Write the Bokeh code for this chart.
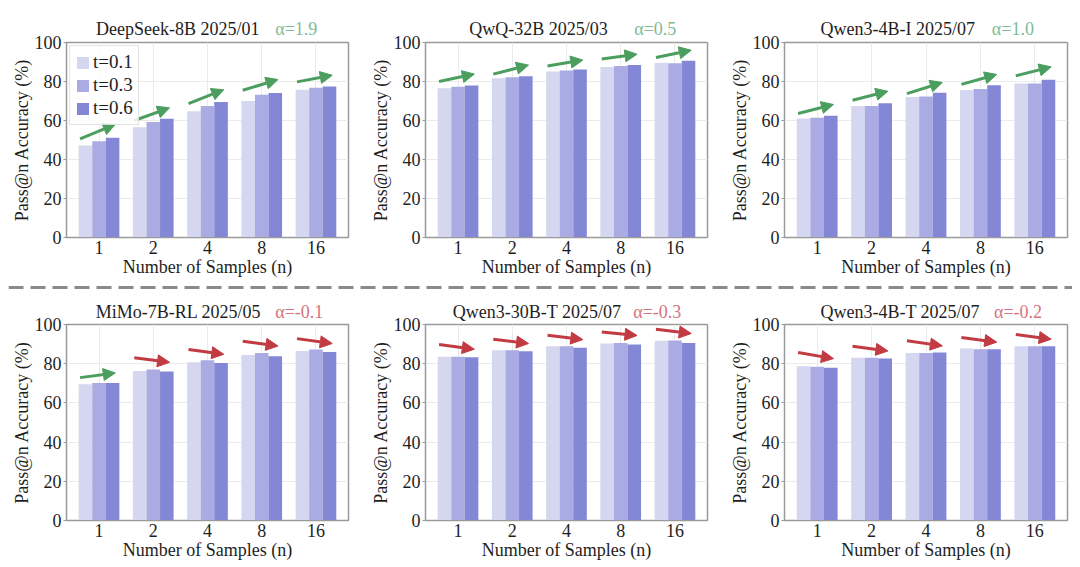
from bokeh.plotting import figure
from bokeh.models import (ColumnDataSource, Range1d, FixedTicker, Arrow,
                          NormalHead, Legend, LegendItem)
from bokeh.core.properties import value
from bokeh.layouts import column, row
from bokeh.embed import file_html
from bokeh.resources import INLINE

# ---------------- data ----------------
n_samples = ["1", "2", "4", "8", "16"]
temps = ["t=0.1", "t=0.3", "t=0.6"]
models = ["DeepSeek-8B 2025/01", "QwQ-32B 2025/03", "Qwen3-4B-I 2025/07",
          "MiMo-7B-RL 2025/05", "Qwen3-30B-T 2025/07", "Qwen3-4B-T 2025/07"]
alphas = ["\u03b1=1.9", "\u03b1=0.5", "\u03b1=1.0", "\u03b1=-0.1", "\u03b1=-0.3", "\u03b1=-0.2"]

deepseek_t01 = [47.2, 56.6, 64.7, 70.0, 75.8]
deepseek_t03 = [49.4, 59.2, 67.4, 73.2, 76.8]
deepseek_t06 = [51.1, 60.9, 69.5, 74.1, 77.5]
deepseek_arrow_tail = [50.6, 60.0, 68.6, 75.5, 79.8]
deepseek_arrow_tip = [58.0, 66.5, 75.8, 81.0, 83.2]

qwq_t01 = [76.6, 81.7, 85.1, 87.5, 89.6]
qwq_t03 = [77.3, 82.2, 85.6, 87.9, 89.4]
qwq_t06 = [78.0, 82.7, 86.2, 88.4, 90.6]
qwq_arrow_tail = [80.0, 83.8, 88.0, 91.5, 92.3]
qwq_arrow_tip = [83.8, 88.4, 91.0, 94.0, 96.0]

qwen4bi_t01 = [61.0, 67.4, 72.1, 75.6, 79.0]
qwen4bi_t03 = [61.4, 67.5, 72.3, 76.2, 79.0]
qwen4bi_t06 = [62.4, 68.9, 74.2, 78.1, 80.9]
qwen4bi_arrow_tail = [63.6, 70.4, 73.8, 78.5, 82.9]
qwen4bi_arrow_tip = [68.2, 75.0, 79.5, 83.6, 87.5]

mimo_t01 = [69.5, 76.3, 80.7, 84.5, 86.5]
mimo_t03 = [70.2, 77.0, 81.8, 85.5, 87.2]
mimo_t06 = [70.2, 76.0, 80.4, 83.8, 86.0]
mimo_arrow_tail = [72.9, 83.0, 87.2, 91.5, 92.8]
mimo_arrow_tip = [75.3, 80.7, 84.8, 89.0, 90.3]

qwen30bt_t01 = [83.6, 86.9, 88.9, 90.3, 91.7]
qwen30bt_t03 = [83.6, 86.9, 88.9, 90.5, 91.8]
qwen30bt_t06 = [83.3, 86.4, 88.2, 89.8, 90.6]
qwen30bt_arrow_tail = [89.8, 92.5, 94.5, 96.2, 97.6]
qwen30bt_arrow_tip = [87.4, 90.3, 92.3, 94.4, 95.4]

qwen4bt_t01 = [78.7, 83.0, 85.5, 87.7, 88.9]
qwen4bt_t03 = [78.4, 83.0, 85.5, 87.4, 88.9]
qwen4bt_t06 = [77.9, 82.6, 85.7, 87.4, 88.9]
qwen4bt_arrow_tail = [85.7, 88.9, 91.7, 93.4, 94.9]
qwen4bt_arrow_tip = [82.6, 86.5, 89.1, 91.0, 92.5]

panels = [
    (deepseek_t01, deepseek_t03, deepseek_t06, deepseek_arrow_tail, deepseek_arrow_tip),
    (qwq_t01, qwq_t03, qwq_t06, qwq_arrow_tail, qwq_arrow_tip),
    (qwen4bi_t01, qwen4bi_t03, qwen4bi_t06, qwen4bi_arrow_tail, qwen4bi_arrow_tip),
    (mimo_t01, mimo_t03, mimo_t06, mimo_arrow_tail, mimo_arrow_tip),
    (qwen30bt_t01, qwen30bt_t03, qwen30bt_t06, qwen30bt_arrow_tail, qwen30bt_arrow_tip),
    (qwen4bt_t01, qwen4bt_t03, qwen4bt_t06, qwen4bt_arrow_tail, qwen4bt_arrow_tip),
]

# ---------------- style ----------------
FONT = "Liberation Serif"
BAR_COLORS = ["#d5d6ef", "#a9abe2", "#8387d5"]
UP_COLOR = "#4c9e5f"
DOWN_COLOR = "#c23a42"
ALPHA_UP = "#80bb94"
ALPHA_DOWN = "#d4737d"
FRAME_COLOR = "#9a9a9a"
TEXT_COLOR = "#1e1e1e"
# title placement (data x of end of black title / start of alpha text)
title_end_x = [2.96, 2.76, 2.90, 2.99, 3.01, 2.99]
alpha_start_x = [3.25, 3.25, 3.21, 3.25, 3.23, 3.25]
offsets = [-0.25, 0.0, 0.25]
BAR_W = 0.25
X_START, X_END = -0.6, 4.6


def make_title_strip(i, width, border_right, height, y_text, overlap):
    s = figure(width=width, height=height, output_backend="svg", toolbar_location=None,
               x_range=Range1d(X_START, X_END), y_range=Range1d(0, 1),
               min_border_left=55, min_border_right=border_right,
               min_border_top=0, min_border_bottom=0)
    s.axis.visible = False
    s.grid.visible = False
    s.outline_line_color = None
    s.background_fill_alpha = 0
    s.border_fill_alpha = 0
    s.margin = (0, 0, -overlap, 0)
    s.text(x=[title_end_x[i]], y=[y_text], text=[models[i]], text_align="right",
           text_baseline="middle", text_font=value(FONT), text_font_size="18px",
           text_color=TEXT_COLOR)
    acol = ALPHA_DOWN if alphas[i].startswith("\u03b1=-") else ALPHA_UP
    s.text(x=[alpha_start_x[i]], y=[y_text], text=[alphas[i]], text_align="left",
           text_baseline="middle", text_font=value(FONT), text_font_size="18px",
           text_color=acol)
    return s


def make_panel(i, width, border_right, height, btop, bbot):
    t01, t03, t06, tail, tip = panels[i]
    p = figure(width=width, height=height, output_backend="svg", toolbar_location=None,
               x_range=Range1d(X_START, X_END), y_range=Range1d(0, 100),
               min_border_left=55, min_border_right=border_right,
               min_border_top=btop, min_border_bottom=bbot)
    p.outline_line_color = FRAME_COLOR
    p.outline_line_width = 1.5
    p.border_fill_alpha = 0
    p.background_fill_color = "white"

    xs = list(range(len(n_samples)))
    items = []
    for k, vals in enumerate([t01, t03, t06]):
        src = ColumnDataSource(dict(x=[x + offsets[k] for x in xs], top=vals))
        r = p.vbar(x="x", top="top", width=BAR_W, bottom=0, source=src,
                   fill_color=BAR_COLORS[k], line_color=None)
        items.append(LegendItem(label=temps[k], renderers=[r]))

    up = dict(x0=[], y0=[], x1=[], y1=[])
    dn = dict(x0=[], y0=[], x1=[], y1=[])
    for x, a, b in zip(xs, tail, tip):
        d = up if b > a else dn
        d["x0"].append(x - 0.35)
        d["y0"].append(a)
        d["x1"].append(x + 0.30)
        d["y1"].append(b)
    for d, c in ((up, UP_COLOR), (dn, DOWN_COLOR)):
        if d["x0"]:
            p.add_layout(Arrow(end=NormalHead(size=12, fill_color=c, line_color=c, line_width=1),
                               x_start="x0", y_start="y0", x_end="x1", y_end="y1",
                               line_color=c, line_width=3, source=ColumnDataSource(d)))

    p.xaxis.ticker = FixedTicker(ticks=xs)
    p.xaxis.major_label_overrides = {x: n_samples[x] for x in xs}
    p.yaxis.ticker = FixedTicker(ticks=[0, 20, 40, 60, 80, 100])
    p.xaxis.axis_label = "Number of Samples (n)"
    p.yaxis.axis_label = "Pass@n Accuracy (%)"
    for ax in (p.xaxis[0], p.yaxis[0]):
        ax.axis_label_text_font = FONT
        ax.axis_label_text_font_size = "18px"
        ax.axis_label_text_font_style = "normal"
        ax.axis_label_text_color = TEXT_COLOR
        ax.major_label_text_font = FONT
        ax.major_label_text_font_size = "18px"
        ax.major_label_text_color = TEXT_COLOR
        ax.axis_line_color = FRAME_COLOR
        ax.major_tick_line_color = FRAME_COLOR
        ax.major_tick_in = 0
        ax.minor_tick_line_color = None
        ax.axis_label_standoff = 0
    p.xaxis[0].major_tick_out = 0
    p.xaxis[0].major_label_standoff = 3
    p.yaxis[0].major_tick_out = 3
    p.yaxis[0].major_label_standoff = 2
    p.grid.grid_line_color = "#ebebeb"
    p.grid.grid_line_width = 1

    if i == 0:
        leg = Legend(items=items, location="top_left")
        leg.label_text_font = FONT
        leg.label_text_font_size = "19px"
        leg.label_text_color = TEXT_COLOR
        leg.glyph_width = 15
        leg.glyph_height = 15
        leg.label_standoff = 3
        leg.spacing = 1
        leg.padding = 5
        leg.margin = 3
        leg.border_line_color = "#c8c8c8"
        leg.background_fill_alpha = 0.85
        p.add_layout(leg, "center")
    return p


widths = [359, 359, 346]
brs = [19, 19, 5]

top_cols = []
for j in range(3):
    strip = make_title_strip(j, widths[j], brs[j], 32, 0.344, 8)
    plot = make_panel(j, widths[j], brs[j], 249, 10, 44)
    top_cols.append(column(strip, plot))

bottom_cols = []
for j in range(3):
    strip = make_title_strip(3 + j, widths[j], brs[j], 30, 0.367, 9)
    plot = make_panel(3 + j, widths[j], brs[j], 250, 10, 44)
    bottom_cols.append(column(strip, plot))

sep = figure(width=1064, height=12, output_backend="svg", toolbar_location=None,
             x_range=Range1d(0, 1), y_range=Range1d(0, 1),
             min_border_left=0, min_border_right=0,
             min_border_top=0, min_border_bottom=0)
sep.axis.visible = False
sep.grid.visible = False
sep.outline_line_color = None
sep.segment(x0=[0], y0=[0.5], x1=[1], y1=[0.5], line_color="#8a8a8a",
            line_width=3, line_dash="15 7")

layout = column(row(*top_cols), sep, row(*bottom_cols))
layout.margin = (8, 0, 0, 8)

open("out.html", "w").write(file_html(layout, INLINE))
